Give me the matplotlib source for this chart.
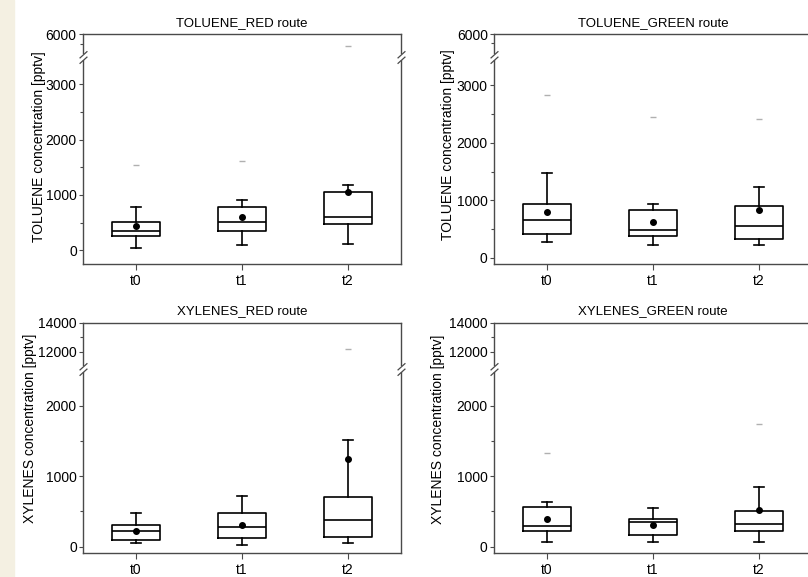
import matplotlib
matplotlib.use("Agg")
import matplotlib.pyplot as plt
from matplotlib.path import Path
from matplotlib.patches import Rectangle

plt.rcParams["font.family"] = ["Liberation Sans", "DejaVu Sans"]
plt.rcParams["font.size"] = 10

# ---------------------------------------------------------------------------
# Data, one box per sampling time
# ---------------------------------------------------------------------------
times = ["t0", "t1", "t2"]

tol_red_q1 = [258, 356, 472]
tol_red_med = [350, 503, 601]
tol_red_q3 = [503, 785, 1061]
tol_red_lo = [43, 92, 117]
tol_red_hi = [785, 908, 1184]
tol_red_mean = [430, 595, 1050]
tol_red_out = [[1534], [1620], [5400]]

tol_green_q1 = [415, 374, 327]
tol_green_med = [661, 480, 556]
tol_green_q3 = [947, 830, 906]
tol_green_lo = [269, 228, 228]
tol_green_hi = [1474, 947, 1240]
tol_green_mean = [807, 626, 836]
tol_green_out = [[2830], [2450], [2410]]

xyl_red_q1 = [95, 119, 133]
xyl_red_med = [229, 276, 376]
xyl_red_q3 = [305, 476, 710]
xyl_red_lo = [48, 24, 48]
xyl_red_hi = [476, 724, 1510]
xyl_red_mean = [220, 310, 1248]
xyl_red_out = [[], [], [12160]]

xyl_green_q1 = [226, 160, 226]
xyl_green_med = [288, 344, 316]
xyl_green_q3 = [561, 396, 509]
xyl_green_lo = [71, 71, 71]
xyl_green_hi = [627, 552, 849]
xyl_green_mean = [387, 302, 519]
xyl_green_out = [[1330], [], [1745]]

FRAME = "#4a4a4a"
W, H = 808, 577


def make_stats(q1, med, q3, lo, hi, mean, out):
    return [dict(q1=a, med=b, q3=c, whislo=d, whishi=e, mean=f, fliers=g, label=t)
            for a, b, c, d, e, f, g, t in zip(q1, med, q3, lo, hi, mean, out, times)]


def px_rect(x0, y_top, x1, y_bot):
    """Pixel box (origin top-left) -> figure fraction rect."""
    return [x0 / W, 1 - y_bot / H, (x1 - x0) / W, (y_bot - y_top) / H]


def break_mark(ax, x):
    # white gap over the spine, then the "//" sign
    ax.plot([x], [1], transform=ax.transAxes, marker="|", ms=5, mew=3,
            color="white", clip_on=False, zorder=10)
    p = Path([(-1, -1.6), (1, 0.2), (-1, -0.2), (1, 1.6)],
             [Path.MOVETO, Path.LINETO, Path.MOVETO, Path.LINETO])
    ax.plot([x], [1], transform=ax.transAxes, marker=p, ms=9, mew=0.9,
            color=FRAME, mfc="none", clip_on=False, zorder=11)


def draw_panel(fig, left, top, brk, bottom, stats, title, ylabel, label_xy,
               top_lim, low_lim, top_major, top_minor, low_major, low_minor):
    right = left + 318
    ax_t = fig.add_axes(px_rect(left, top, right, brk))
    ax_b = fig.add_axes(px_rect(left, brk, right, bottom))

    for ax, lim in ((ax_t, top_lim), (ax_b, low_lim)):
        ax.bxp(stats, positions=[1, 2, 3], widths=0.46, capwidths=0.1,
               showmeans=True, showfliers=True,
               boxprops=dict(color="black", lw=1.2),
               whiskerprops=dict(color="black", lw=1.2),
               capprops=dict(color="black", lw=1.2),
               medianprops=dict(color="black", lw=1.2),
               meanprops=dict(marker="o", mfc="black", mec="black", ms=4),
               flierprops=dict(marker="_", mec="#b0b0b0", ms=5, mew=1))
        ax.set_xlim(0.5, 3.5)
        ax.set_ylim(*lim)
        for s in ax.spines.values():
            s.set_color(FRAME)
            s.set_linewidth(1)
        ax.tick_params(axis="y", which="major", length=3, color=FRAME, width=0.8, pad=1.5)
        ax.tick_params(axis="y", which="minor", length=2, color=FRAME, width=0.8)

    ax_t.spines["bottom"].set_visible(False)
    ax_b.spines["top"].set_visible(False)
    ax_t.set_xticks([])
    ax_t.set_yticks(top_major)
    ax_t.set_yticks(top_minor, minor=True)
    ax_b.set_yticks(low_major)
    ax_b.set_yticks(low_minor, minor=True)
    ax_b.set_xticks([1, 2, 3], times)
    ax_b.tick_params(axis="x", length=4, color=FRAME, width=0.8, pad=3)

    ax_t.set_title(title, fontsize=9.5, pad=6)
    # y label placed in figure pixels (centre), spanning both segments
    fig.text(label_xy[0] / W, 1 - label_xy[1] / H, ylabel, rotation=90,
             ha="center", va="center", fontsize=10)

    break_mark(ax_b, 0)
    break_mark(ax_b, 1)


fig = plt.figure(figsize=(W / 100, H / 100), dpi=100)
fig.patches.append(Rectangle((0, 0), 14 / W, 1, transform=fig.transFigure,
                             color="#f4f0e2", zorder=0))

tol_ticks = dict(top_lim=(4850, 6000), low_lim=(-250, 3500),
                 top_major=[6000], top_minor=[5500],
                 low_major=[0, 1000, 2000, 3000], low_minor=[500, 1500, 2500])

draw_panel(fig, 83, 34, 56.7, 264,
           make_stats(tol_red_q1, tol_red_med, tol_red_q3, tol_red_lo,
                      tol_red_hi, tol_red_mean, tol_red_out),
           "TOLUENE_RED route", "TOLUENE concentration [pptv]", (39, 147), **tol_ticks)

tol_ticks_g = dict(tol_ticks, top_lim=(4780, 6000), low_lim=(-105, 3500))
draw_panel(fig, 494, 34, 56.7, 264,
           make_stats(tol_green_q1, tol_green_med, tol_green_q3, tol_green_lo,
                      tol_green_hi, tol_green_mean, tol_green_out),
           "TOLUENE_GREEN route", "TOLUENE concentration [pptv]", (448, 145), **tol_ticks_g)

xyl_ticks = dict(top_lim=(10830, 14000), low_lim=(-90, 2520),
                 top_major=[12000, 14000], top_minor=[13000],
                 low_major=[0, 1000, 2000], low_minor=[500, 1500])

draw_panel(fig, 83, 322.5, 369, 553,
           make_stats(xyl_red_q1, xyl_red_med, xyl_red_q3, xyl_red_lo,
                      xyl_red_hi, xyl_red_mean, xyl_red_out),
           "XYLENES_RED route", "XYLENES concentration [pptv]", (30, 428), **xyl_ticks)

draw_panel(fig, 494, 322.5, 369, 553,
           make_stats(xyl_green_q1, xyl_green_med, xyl_green_q3, xyl_green_lo,
                      xyl_green_hi, xyl_green_mean, xyl_green_out),
           "XYLENES_GREEN route", "XYLENES concentration [pptv]", (438, 429), **xyl_ticks)

fig.savefig("out.png", dpi=100)
